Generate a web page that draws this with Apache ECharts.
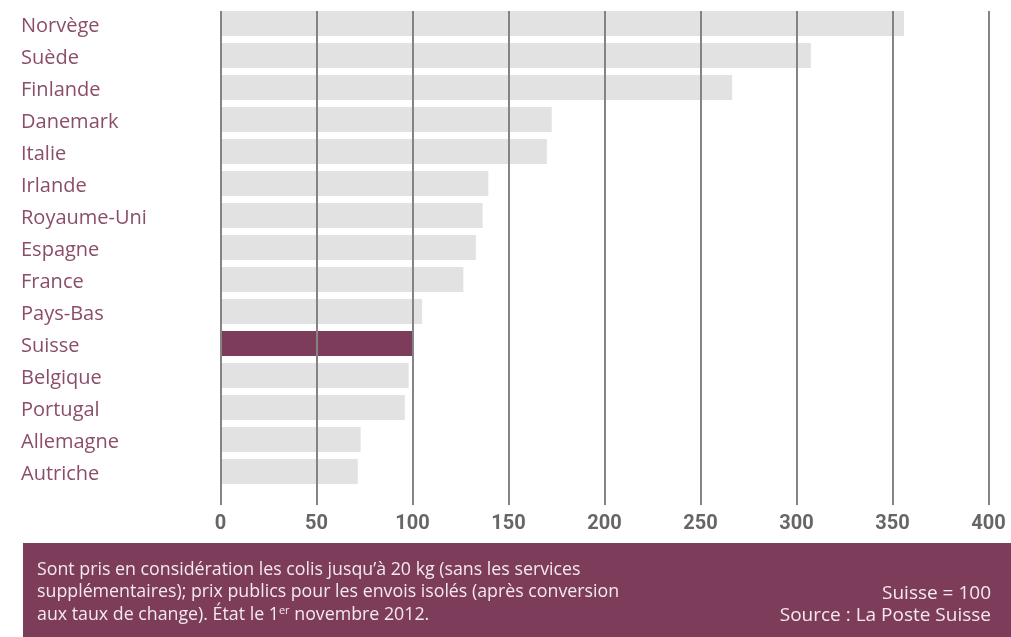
<!DOCTYPE html>
<html>
<head>
<meta charset="utf-8">
<script src="https://cdn.jsdelivr.net/npm/echarts@6/dist/echarts.min.js"></script>
<style>
  html, body { margin: 0; padding: 0; background: #ffffff; }
  #chart { width: 1011px; height: 637px; }
</style>
</head>
<body>
<div id="chart"></div>
<script>
// Prix des colis en Europe, indice Suisse = 100
const countries = ['Norvège', 'Suède', 'Finlande', 'Danemark', 'Italie', 'Irlande', 'Royaume-Uni',
  'Espagne', 'France', 'Pays-Bas', 'Suisse', 'Belgique', 'Portugal', 'Allemagne', 'Autriche'];
const indexValues = [356, 307.5, 266.5, 172.5, 170, 139.5, 136.5, 133, 126.5, 105, 100, 98, 96, 73, 71.5];
const highlighted = 'Suisse';
const axisTicks = [0, 50, 100, 150, 200, 250, 300, 350, 400];
const noteLines = [
  'Sont pris en considération les colis jusqu’à 20 kg (sans les services',
  'supplémentaires); prix publics pour les envois isolés (après conversion',
  'aux taux de change). État le 1{sup|er} novembre 2012.'
];
const sourceLines = ['Suisse = 100', 'Source : La Poste Suisse'];

const PURPLE = '#7e3c5b';
const LABEL = '#8b4d69';
const GREY_BAR = '#e2e2e2';
const GRID_LINE = '#848484';
const NOTE = '#f3e9ee';

const chart = echarts.init(document.getElementById('chart'), null, { renderer: 'canvas' });

const barData = countries.map((c, i) => ({
  value: indexValues[i],
  itemStyle: { color: c === highlighted ? PURPLE : GREY_BAR }
}));

const hiddenValueAxis = (gridIndex) => ({
  gridIndex, type: 'value', min: axisTicks[0], max: axisTicks[axisTicks.length - 1], interval: 50,
  axisLine: { show: false }, axisTick: { show: false }, axisLabel: { show: false }, splitLine: { show: false }
});

chart.setOption({
  animation: false,
  backgroundColor: '#ffffff',
  grid: [
    // bars
    { left: 220.5, right: 22.5, top: 7.5, bottom: 149.5, containLabel: false },
    // value scale with gridlines and tick labels
    { left: 220.5, right: 22.5, top: 11, bottom: 132, containLabel: false },
    // country names, set slightly lower than the bar centres
    { left: 220.5, right: 22.5, top: 10.5, bottom: 146.5, containLabel: false }
  ],
  xAxis: [
    hiddenValueAxis(0),
    {
      gridIndex: 1, type: 'value', min: axisTicks[0], max: axisTicks[axisTicks.length - 1], interval: 50,
      axisLine: { show: false }, axisTick: { show: false },
      axisLabel: {
        show: true, margin: 9, color: '#666666',
        fontFamily: 'Roboto', fontWeight: 'bold', fontSize: 20
      },
      splitLine: { show: true, lineStyle: { color: GRID_LINE, width: 2 } },
      z: 5
    },
    hiddenValueAxis(2)
  ],
  yAxis: [
    { gridIndex: 0, type: 'category', data: countries, inverse: true, show: false },
    { gridIndex: 1, type: 'category', data: countries, inverse: true, show: false },
    {
      gridIndex: 2, type: 'category', data: countries, inverse: true,
      axisLine: { show: false }, axisTick: { show: false },
      axisLabel: {
        show: true, align: 'left', margin: 199.5, color: LABEL,
        fontFamily: 'Open Sans', fontSize: 20
      }
    }
  ],
  series: [
    {
      type: 'bar', xAxisIndex: 0, yAxisIndex: 0, data: barData,
      barWidth: 25, z: 2, silent: true
    }
  ],
  graphic: [
    {
      type: 'rect', left: 23, top: 543, z: 10,
      shape: { width: 988, height: 94 },
      style: { fill: PURPLE }
    },
    ...noteLines.map((t, i) => ({
      type: 'text', left: 37, top: 561 + i * 22, z: 11,
      style: {
        text: t, fill: NOTE, font: '17.8px "Open Sans"',
        rich: { sup: { fontSize: 11, fill: NOTE, fontFamily: 'Open Sans', verticalAlign: 'top', padding: [0, 0, 8, 0] } }
      }
    })),
    ...sourceLines.map((t, i) => ({
      type: 'text', right: 20, top: 584 + i * 22, z: 11,
      style: { text: t, fill: NOTE, font: '19px "Open Sans"', align: 'right' }
    }))
  ]
});
</script>
</body>
</html>
